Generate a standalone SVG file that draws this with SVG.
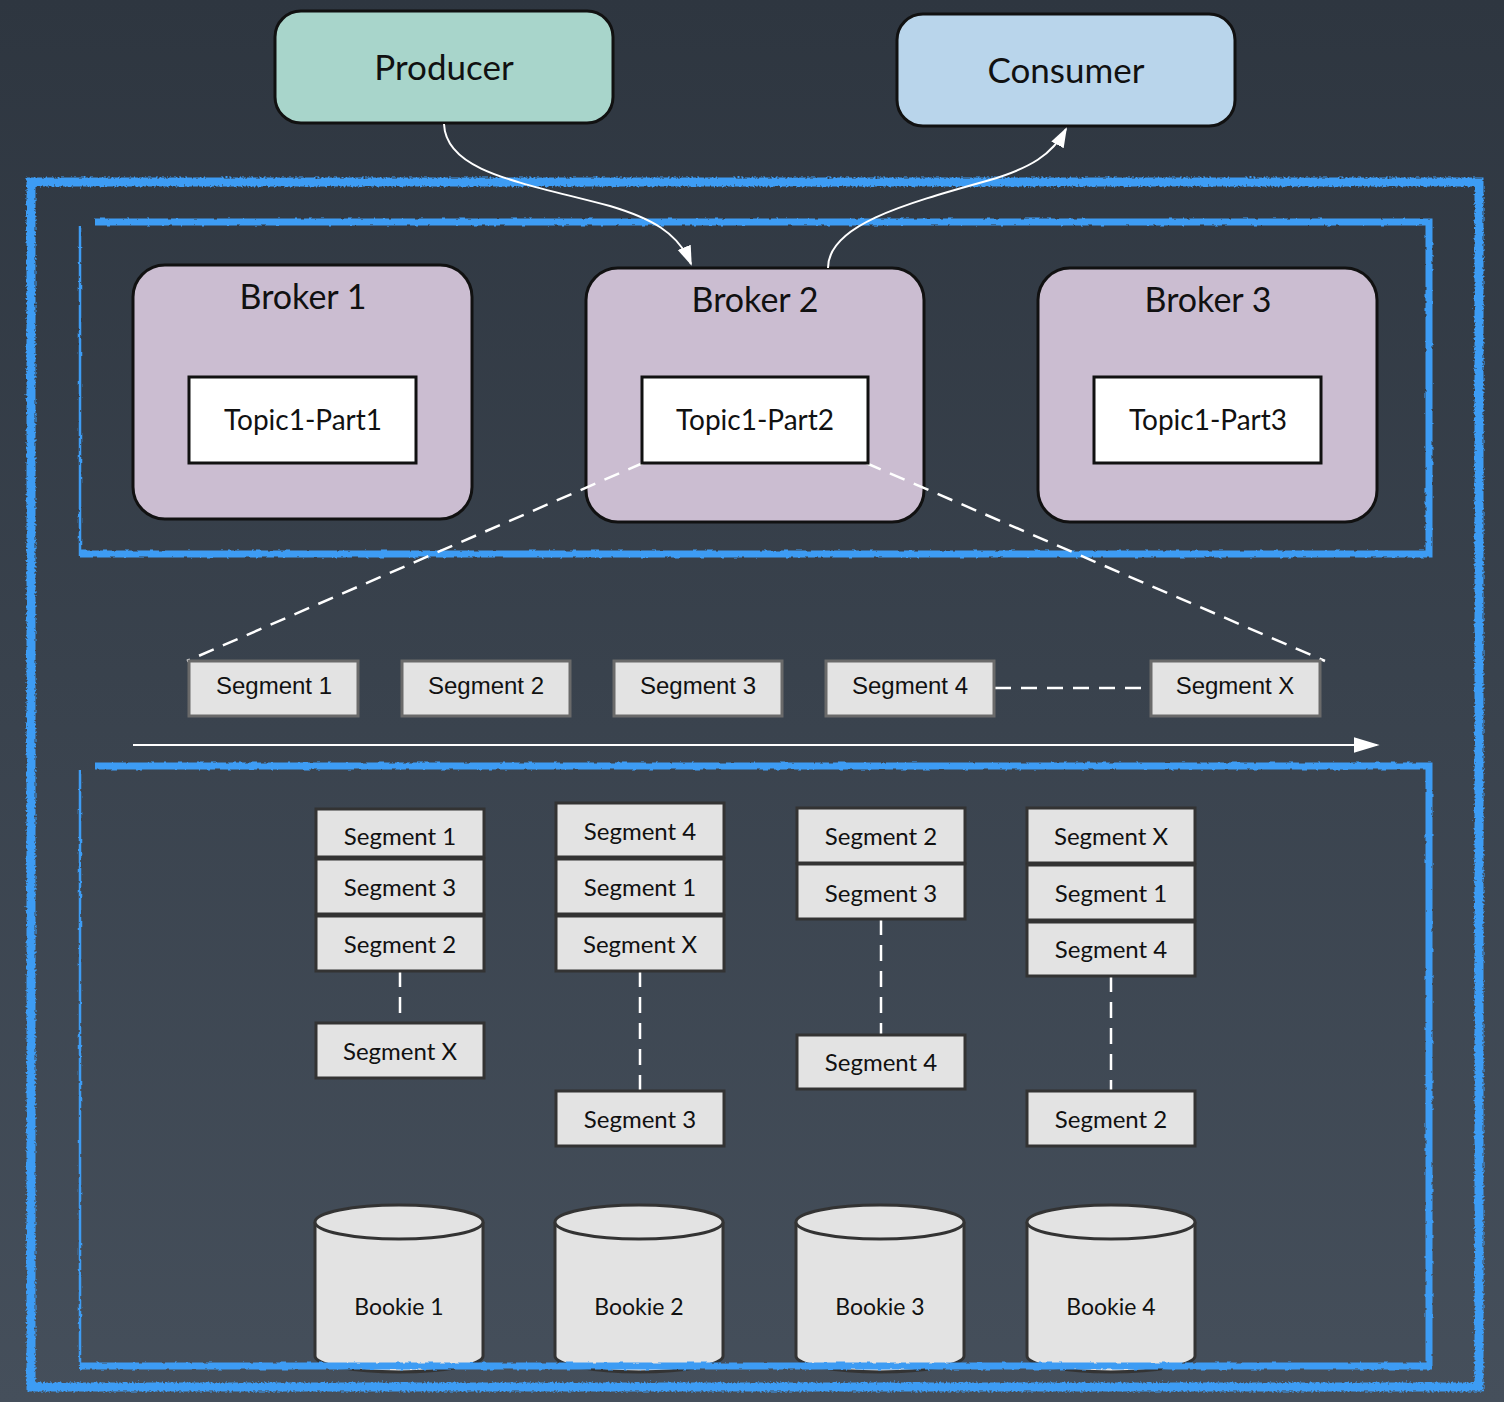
<svg xmlns="http://www.w3.org/2000/svg" width="1504" height="1402" viewBox="0 0 1504 1402">
<defs>
<linearGradient id="bg" x1="0" y1="0" x2="0" y2="1">
<stop offset="0" stop-color="#2e3640"/>
<stop offset="1" stop-color="#454f5b"/>
</linearGradient>
<filter id="rough" filterUnits="userSpaceOnUse" x="0" y="0" width="1504" height="1402">
<feTurbulence type="fractalNoise" baseFrequency="0.5" numOctaves="2" seed="4"/>
<feDisplacementMap in="SourceGraphic" scale="5" xChannelSelector="R" yChannelSelector="G"/>
</filter>
<filter id="rough2" filterUnits="userSpaceOnUse" x="0" y="0" width="1504" height="1402">
<feTurbulence type="fractalNoise" baseFrequency="0.15" numOctaves="2" seed="7"/>
<feDisplacementMap in="SourceGraphic" scale="3" xChannelSelector="R" yChannelSelector="G"/>
</filter>
<marker id="arrBig" viewBox="0 0 10 10" refX="9" refY="5" markerWidth="20" markerHeight="20" markerUnits="userSpaceOnUse" orient="auto">
<path d="M0,1.5 L10,5 L0,8.5 z" fill="#ffffff"/>
</marker>
<marker id="arrH" viewBox="0 0 10 10" refX="9" refY="5" markerWidth="26" markerHeight="26" markerUnits="userSpaceOnUse" orient="auto">
<path d="M0,2 L10,5 L0,8 z" fill="#ffffff"/>
</marker>
</defs>
<style>
.frame{fill:none;stroke:#3d9cf4;stroke-linejoin:miter}
.lato{font-family:Lato,"Open Sans","Liberation Sans",sans-serif;fill:#111}
.arial{font-family:"Liberation Sans",Arial,sans-serif;fill:#111}
.top{stroke:#111;stroke-width:3}
.broker{fill:#cbbdd1;stroke:#111;stroke-width:3}
.topic{fill:#ffffff;stroke:#111;stroke-width:3}
.seg{fill:#e3e3e3;stroke:#6a6a6a;stroke-width:3}
.bseg{fill:#e3e3e3;stroke:#333;stroke-width:3}
.bk{fill:#e3e3e3;stroke:#333;stroke-width:3}
.dash{fill:none;stroke:#ffffff;stroke-width:2.5;stroke-dasharray:16 10}
.wire{fill:none;stroke:#ffffff;stroke-width:2}
</style>
<rect x="0" y="0" width="1504" height="1402" fill="url(#bg)"/>

<g id="frames">
<g filter="url(#rough)">
<rect class="frame" x="31" y="182" width="1448" height="1205" stroke-width="9"/>
</g>
<g filter="url(#rough2)">
<path class="frame" d="M80,556 L80,226" stroke-width="2.5"/>
<path class="frame" d="M95,222 L1429,222 L1429,554 L80,554" stroke-width="7"/>
<path class="frame" d="M80,1366 L80,770" stroke-width="2.5"/>
<path class="frame" d="M95,766 L1429,766 L1429,1366" stroke-width="7"/>
</g>
</g>

<g id="producer">
<rect class="top" x="275" y="11" width="338" height="112" rx="26" fill="#a8d5cb"/>
<text class="lato" x="444" y="80" font-size="35" text-anchor="middle">Producer</text>
</g>
<g id="consumer">
<rect class="top" x="897" y="14" width="338" height="112" rx="26" fill="#b9d5eb"/>
<text class="lato" x="1066" y="83" font-size="35" text-anchor="middle">Consumer</text>
</g>

<g id="broker1">
<rect class="broker" x="133" y="265" width="339" height="254" rx="32"/>
<text class="lato" x="303" y="309" font-size="34" text-anchor="middle">Broker 1</text>
</g>
<g id="broker2">
<rect class="broker" x="586" y="268" width="338" height="254" rx="32"/>
<text class="lato" x="755" y="312" font-size="34" text-anchor="middle">Broker 2</text>
</g>
<g id="broker3">
<rect class="broker" x="1038" y="268" width="339" height="254" rx="32"/>
<text class="lato" x="1208" y="312" font-size="34" text-anchor="middle">Broker 3</text>
</g>

<g id="connectors">
<path class="wire" d="M444,124 C446,172 520,182 610,206 C650,218 678,232 691,264" marker-end="url(#arrBig)"/>
<path class="wire" d="M828,268 C828,226 900,205 990,180 C1030,168 1052,155 1066,129" marker-end="url(#arrBig)"/>
<path class="dash" d="M643,463 L187,661"/>
<path class="dash" d="M866,463 L1325,661"/>
<path class="dash" d="M995,688 L1151,688"/>
<path class="wire" d="M133,745 L1377,745" marker-end="url(#arrH)"/>
<path class="dash" d="M400,971 L400,1023"/>
<path class="dash" d="M640,971 L640,1091"/>
<path class="dash" d="M881,919 L881,1035"/>
<path class="dash" d="M1111,976 L1111,1091"/>
</g>

<g id="topic1-part1">
<rect class="topic" x="189" y="377" width="227" height="86"/>
<text class="lato" x="303" y="430" font-size="28" text-anchor="middle">Topic1-Part1</text>
</g>
<g id="topic1-part2">
<rect class="topic" x="642" y="377" width="226" height="86"/>
<text class="lato" x="755" y="430" font-size="28" text-anchor="middle">Topic1-Part2</text>
</g>
<g id="topic1-part3">
<rect class="topic" x="1094" y="377" width="227" height="86"/>
<text class="lato" x="1208" y="430" font-size="28" text-anchor="middle">Topic1-Part3</text>
</g>

<g id="seg-row">
<g id="row-seg1"><rect class="seg" x="189" y="661" width="169" height="55"/><text class="arial" x="274" y="694" font-size="24" text-anchor="middle">Segment 1</text></g>
<g id="row-seg2"><rect class="seg" x="402" y="661" width="168" height="55"/><text class="arial" x="486" y="694" font-size="24" text-anchor="middle">Segment 2</text></g>
<g id="row-seg3"><rect class="seg" x="614" y="661" width="168" height="55"/><text class="arial" x="698" y="694" font-size="24" text-anchor="middle">Segment 3</text></g>
<g id="row-seg4"><rect class="seg" x="826" y="661" width="168" height="55"/><text class="arial" x="910" y="694" font-size="24" text-anchor="middle">Segment 4</text></g>
<g id="row-segx"><rect class="seg" x="1151" y="661" width="169" height="55"/><text class="arial" x="1235" y="694" font-size="24" text-anchor="middle">Segment X</text></g>
</g>

<g id="col1">
<g id="c1-s1"><rect class="bseg" x="316" y="809" width="168" height="48"/><text class="lato" x="400" y="845" font-size="24" text-anchor="middle">Segment 1</text></g>
<g id="c1-s3"><rect class="bseg" x="316" y="859" width="168" height="55"/><text class="lato" x="400" y="896" font-size="24" text-anchor="middle">Segment 3</text></g>
<g id="c1-s2"><rect class="bseg" x="316" y="916" width="168" height="55"/><text class="lato" x="400" y="953" font-size="24" text-anchor="middle">Segment 2</text></g>
<g id="c1-sx"><rect class="bseg" x="316" y="1023" width="168" height="55"/><text class="lato" x="400" y="1060" font-size="24" text-anchor="middle">Segment X</text></g>
</g>
<g id="col2">
<g id="c2-s4"><rect class="bseg" x="556" y="803" width="168" height="54"/><text class="lato" x="640" y="840" font-size="24" text-anchor="middle">Segment 4</text></g>
<g id="c2-s1"><rect class="bseg" x="556" y="859" width="168" height="55"/><text class="lato" x="640" y="896" font-size="24" text-anchor="middle">Segment 1</text></g>
<g id="c2-sx"><rect class="bseg" x="556" y="916" width="168" height="55"/><text class="lato" x="640" y="953" font-size="24" text-anchor="middle">Segment X</text></g>
<g id="c2-s3"><rect class="bseg" x="556" y="1091" width="168" height="55"/><text class="lato" x="640" y="1128" font-size="24" text-anchor="middle">Segment 3</text></g>
</g>
<g id="col3">
<g id="c3-s2"><rect class="bseg" x="797" y="808" width="168" height="55"/><text class="lato" x="881" y="845" font-size="24" text-anchor="middle">Segment 2</text></g>
<g id="c3-s3"><rect class="bseg" x="797" y="864" width="168" height="55"/><text class="lato" x="881" y="902" font-size="24" text-anchor="middle">Segment 3</text></g>
<g id="c3-s4"><rect class="bseg" x="797" y="1035" width="168" height="54"/><text class="lato" x="881" y="1071" font-size="24" text-anchor="middle">Segment 4</text></g>
</g>
<g id="col4">
<g id="c4-sx"><rect class="bseg" x="1027" y="808" width="168" height="55"/><text class="lato" x="1111" y="845" font-size="24" text-anchor="middle">Segment X</text></g>
<g id="c4-s1"><rect class="bseg" x="1027" y="865" width="168" height="55"/><text class="lato" x="1111" y="902" font-size="24" text-anchor="middle">Segment 1</text></g>
<g id="c4-s4"><rect class="bseg" x="1027" y="922" width="168" height="54"/><text class="lato" x="1111" y="958" font-size="24" text-anchor="middle">Segment 4</text></g>
<g id="c4-s2"><rect class="bseg" x="1027" y="1091" width="168" height="55"/><text class="lato" x="1111" y="1128" font-size="24" text-anchor="middle">Segment 2</text></g>
</g>

<g id="bookie1">
<path class="bk" d="M315,1222 L315,1356 A84,16 0 0 0 483,1356 L483,1222"/>
<ellipse class="bk" cx="399" cy="1222" rx="84" ry="17"/>
<text class="lato" x="399" y="1315" font-size="23" text-anchor="middle">Bookie 1</text>
</g>
<g id="bookie2">
<path class="bk" d="M555,1222 L555,1356 A84,16 0 0 0 723,1356 L723,1222"/>
<ellipse class="bk" cx="639" cy="1222" rx="84" ry="17"/>
<text class="lato" x="639" y="1315" font-size="23" text-anchor="middle">Bookie 2</text>
</g>
<g id="bookie3">
<path class="bk" d="M796,1222 L796,1356 A84,16 0 0 0 964,1356 L964,1222"/>
<ellipse class="bk" cx="880" cy="1222" rx="84" ry="17"/>
<text class="lato" x="880" y="1315" font-size="23" text-anchor="middle">Bookie 3</text>
</g>
<g id="bookie4">
<path class="bk" d="M1027,1222 L1027,1356 A84,16 0 0 0 1195,1356 L1195,1222"/>
<ellipse class="bk" cx="1111" cy="1222" rx="84" ry="17"/>
<text class="lato" x="1111" y="1315" font-size="23" text-anchor="middle">Bookie 4</text>
</g>

<g id="frame-bottom" filter="url(#rough2)">
<path class="frame" d="M80,1366 L1432,1366" stroke-width="7"/>
</g>
</svg>
